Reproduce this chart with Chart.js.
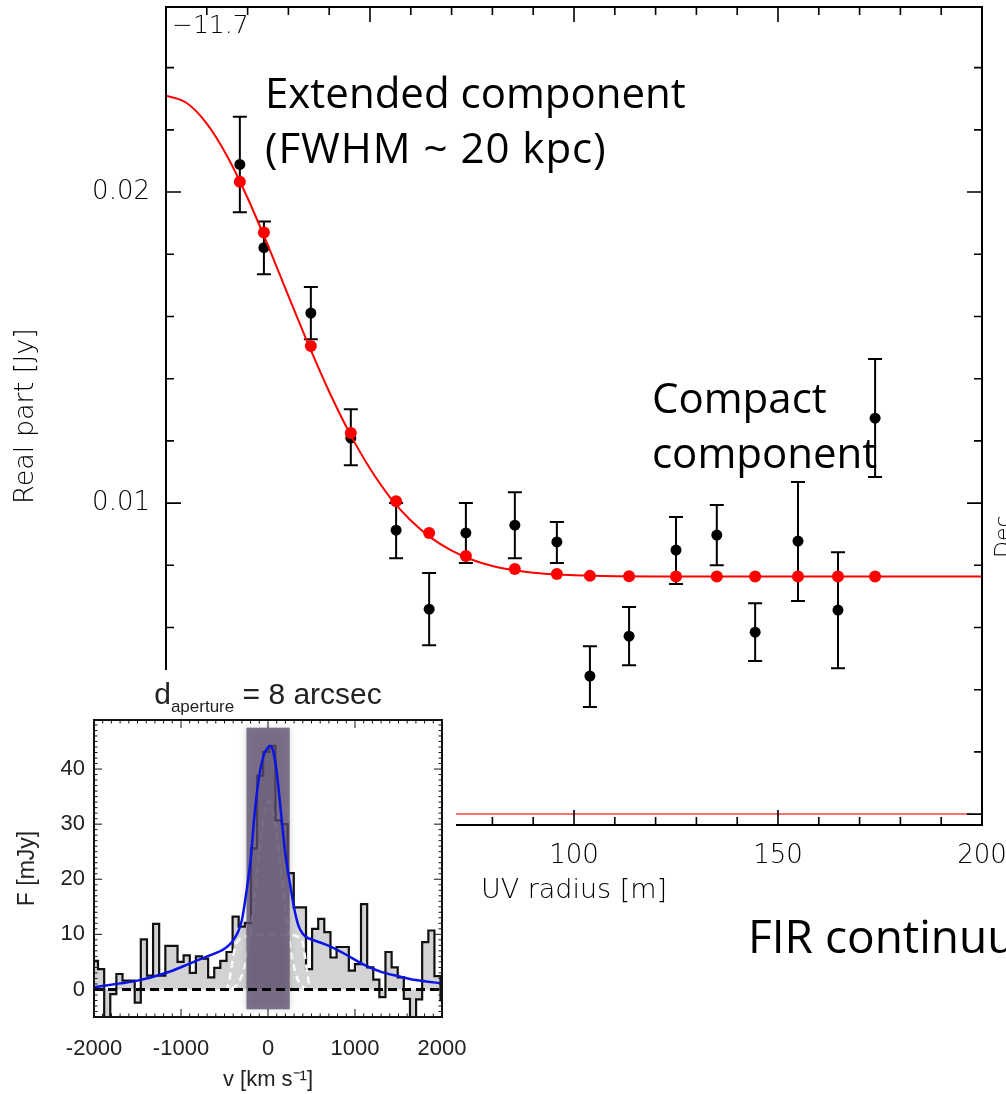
<!DOCTYPE html>
<html>
<head>
<meta charset="utf-8">
<title>Real part vs UV radius</title>
<script src="https://cdn.jsdelivr.net/npm/chart.js@4.4.1/dist/chart.umd.min.js"></script>
<style>
  html, body { margin: 0; padding: 0; background: #fff; }
  body { position: relative; width: 1006px; height: 1094px; overflow: hidden; }
  canvas { position: absolute; }
  #main { left: 0; top: 0; }
  #insetBack { position: absolute; left: 0; top: 670px; width: 456px; height: 424px; background: #fff; }
  #inset { left: 0; top: 670px; }
  .note { position: absolute; white-space: nowrap; line-height: 1; color: #000; font-family: 'Open Sans', sans-serif; }
  .idl { position: absolute; white-space: nowrap; line-height: 1; color: #000; font-family: 'DejaVu Sans', sans-serif; font-weight: 200; }
  #insetTitle { position: absolute; left: 0; width: 536px; top: 679px; text-align: center; line-height: 1;
                font-family: 'Liberation Sans', Arial, sans-serif; font-size: 30px; color: #222; white-space: nowrap; }
  #insetTitle span { font-size: 17px; position: relative; top: 8px; }
</style>
</head>
<body>
<canvas id="main" width="1006" height="1094"></canvas>
<div class="idl" style="left:172px; top:12px; font-size:25px;">−11.7</div>
<div class="idl" style="left:992px; top:558px; font-size:22px; transform:rotate(-90deg); transform-origin:0 0;">Dec</div>
<div class="note" style="left:265px; top:71px; font-size:42px;">Extended component</div>
<div class="note" style="left:265px; top:126px; font-size:42px; letter-spacing:1px;">(FWHM ~ 20 kpc)</div>
<div class="note" style="left:652px; top:376px; font-size:42px;">Compact</div>
<div class="note" style="left:652px; top:431px; font-size:42px;">component</div>
<div class="note" style="left:748px; top:912px; font-size:46px;">FIR continuum</div>
<div id="insetBack"></div>
<canvas id="inset" width="480" height="424"></canvas>
<div id="insetTitle">d<span>aperture</span> = 8 arcsec</div>
<script>
// main panel: real part of the visibilities against uv distance
const uvRadius   = [18.1, 24.0, 35.5, 45.3, 56.4, 64.5, 73.5, 85.5, 95.8, 103.9, 113.5, 125.0, 135.0, 144.4, 154.9, 164.7, 173.8];
const realPart   = [0.02089, 0.01821, 0.01611, 0.01209, 0.00913, 0.00659, 0.00904, 0.00929, 0.00875, 0.00444, 0.00572, 0.00849, 0.00897, 0.00585, 0.00878, 0.00656, 0.01273];
const realHigh   = [0.02242, 0.01905, 0.01695, 0.01302, 0.01000, 0.00775, 0.01000, 0.01035, 0.00939, 0.00540, 0.00666, 0.00955, 0.00994, 0.00678, 0.01068, 0.00842, 0.01463];
const realLow    = [0.01935, 0.01736, 0.01527, 0.01122, 0.00823, 0.00543, 0.00807, 0.00823, 0.00807, 0.00344, 0.00479, 0.00740, 0.00800, 0.00492, 0.00685, 0.00469, 0.01084];
const modelAtData = [0.02033, 0.01870, 0.01505, 0.01225, 0.01006, 0.00904, 0.00830, 0.00788, 0.00772, 0.00766, 0.00765, 0.00764, 0.00764, 0.00764, 0.00764, 0.00764, 0.00764];
// model curve
const fitRadius = [0, 5, 10, 15, 20, 25, 30, 35, 40, 45, 50, 55, 60, 65, 70, 75, 80, 85, 90, 95, 100, 110, 120, 140, 170, 200];
const fitReal   = [0.02310, 0.02287, 0.02220, 0.02115, 0.01981, 0.01828, 0.01666, 0.01507, 0.01358, 0.01225, 0.01111, 0.01017, 0.00944, 0.00888, 0.00847, 0.00818, 0.00798, 0.00785, 0.00776, 0.00771, 0.00768, 0.00765, 0.00764, 0.00764, 0.00764, 0.00764];
const zeroLineRadius = [0, 197];
const mainXLabels = [0, 50, 100, 150, 200];
const mainYLabels = [0, 0.01, 0.02];

// inset: [CII] spectrum
const binStart = [-2024, -1954, -1883, -1813, -1743, -1672, -1602, -1532, -1462, -1391, -1321, -1251, -1180, -1110, -1040, -970,
  -899, -829, -759, -688, -618, -548, -477, -407, -337, -266, -196, -126, -56, 15, 85, 155, 226, 296, 366, 437,
  507, 577, 647, 718, 788, 858, 929, 999, 1069, 1140, 1210, 1280, 1350, 1421, 1491, 1561, 1632, 1702, 1772, 1843, 1913, 1983, 2053];
const binFlux = [5.2, 3.7, -6, -0.85, 2.8, 1.6, 1.6, -2.4, 9.1, 2.5, 11.9, 2.5, 7.9, 7.9, 5.0, 6.2,
  3.0, 6.0, 5.6, 2.2, 3.9, 5.2, 6.8, 13.2, 11.4, 12.1, 25.6, 38.8, 43.1, 44.2, 30.7, 30.0, 21.1, 14.9, 14.9, 3.7,
  11.0, 12.8, 10.4, 5.8, 7.7, 7.7, 3.4, 4.6, 15.5, 4.0, 1.8, -1.4, 6.8, 4.0, 2.2, -1.7, -6, -1.8, 8.6, 10.7, 2.4, -2.0, -2.0];
const fitV = [-2000, -1700, -1500, -1300, -1100, -900, -700, -500, -420, -380, -340, -300, -250, -200, -150, -100, -50, 0, 30, 60,
  100, 150, 200, 250, 300, 350, 400, 450, 550, 700, 900, 1100, 1300, 1500, 1700, 2000];
const fitF = [0.4, 1.1, 1.6, 2.4, 3.4, 4.7, 6.0, 7.4, 8.5, 9.4, 10.6, 12.6, 17.5, 23.5, 32.5, 38.8, 42.5, 43.9, 44.2, 43.2,
  39.5, 32.0, 24.5, 19.5, 14.8, 11.6, 10.1, 9.4, 8.8, 7.9, 6.3, 4.5, 3.2, 2.4, 1.7, 1.1];
const narrowV = [-420, -340, -280, -220, -160, -100, -50, 10, 70, 120, 180, 240, 300, 360, 420];
const narrowF = [0.1, 1.2, 3.5, 8.5, 16.0, 25.0, 31.0, 34.2, 31.0, 25.5, 17.0, 9.5, 4.0, 1.2, 0.2];
const broadV = [-500, -460, -420, -380, -340, -280, 0, 280, 340, 390, 420, 450, 480, 510];
const broadF = [0, 0.5, 4.0, 7.6, 8.9, 9.6, 9.9, 9.9, 9.6, 9.0, 6.5, 3.0, 0.6, 0];
const windowV = [-248, 250];
const windowF = [-3.6, 47.5];
const insetXLabels = [-2000, -1000, 0, 1000, 2000];
const insetYLabels = [0, 10, 20, 30, 40];

const pts = (xs, ys) => xs.map((x, i) => ({ x: x, y: ys[i] }));

// keep the plot box exactly where the axes are fitted
const fitHeight = h => s => { s.height = h; s.paddingLeft = 0; s.paddingRight = 0; s.paddingTop = 0; s.paddingBottom = 0; };
const fitWidth = w => s => { s.width = w; s.paddingLeft = 0; s.paddingRight = 0; s.paddingTop = 0; s.paddingBottom = 0; };

// box + inward tick marks on all four sides
const frameTicks = {
  id: 'frameTicks',
  afterDraw(chart, args, o) {
    const { ctx, chartArea: a } = chart;
    const x = chart.scales.x, y = chart.scales.y;
    const marks = (min, max, step, major) => {
      const out = [];
      for (let k = Math.ceil(min / step - 1e-6); k * step <= max + step * 1e-6; k++) {
        const v = k * step;
        out.push({ v: v, major: Math.abs(v / major - Math.round(v / major)) < 1e-6 });
      }
      return out;
    };
    ctx.save();
    ctx.strokeStyle = o.color;
    ctx.lineWidth = o.tickWidth;
    ctx.beginPath();
    marks(x.min, x.max, o.xMinor, o.xMajor).forEach(m => {
      const px = x.getPixelForValue(m.v), len = m.major ? o.majorLen : o.minorLen;
      ctx.moveTo(px, a.bottom); ctx.lineTo(px, a.bottom - len);
      ctx.moveTo(px, a.top); ctx.lineTo(px, a.top + len);
    });
    marks(y.min, y.max, o.yMinor, o.yMajor).forEach(m => {
      const py = y.getPixelForValue(m.v), len = m.major ? o.majorLen : o.minorLen;
      ctx.moveTo(a.left, py); ctx.lineTo(a.left + len, py);
      ctx.moveTo(a.right, py); ctx.lineTo(a.right - len, py);
    });
    ctx.stroke();
    ctx.lineWidth = o.frameWidth;
    ctx.strokeRect(a.left, a.top, a.right - a.left, a.bottom - a.top);
    ctx.restore();
  }
};

const errorBars = {
  id: 'errorBars',
  beforeDatasetsDraw(chart) {
    const { ctx } = chart;
    const x = chart.scales.x, y = chart.scales.y;
    ctx.save();
    ctx.strokeStyle = '#000';
    ctx.lineWidth = 2;
    ctx.beginPath();
    uvRadius.forEach((u, i) => {
      const px = x.getPixelForValue(u);
      const hi = y.getPixelForValue(realHigh[i]), lo = y.getPixelForValue(realLow[i]);
      ctx.moveTo(px, hi); ctx.lineTo(px, lo);
      ctx.moveTo(px - 7, hi); ctx.lineTo(px + 7, hi);
      ctx.moveTo(px - 7, lo); ctx.lineTo(px + 7, lo);
    });
    ctx.stroke();
    ctx.restore();
  }
};

// shaded velocity window, drawn just before the blue fit
const velWindow = {
  id: 'velWindow',
  beforeDatasetDraw(chart, args) {
    if (chart.data.datasets[args.index].label !== 'fit') return;
    const { ctx } = chart;
    const x = chart.scales.x, y = chart.scales.y;
    const l = x.getPixelForValue(windowV[0]), r = x.getPixelForValue(windowV[1]);
    const t = y.getPixelForValue(windowF[1]), b = y.getPixelForValue(windowF[0]);
    ctx.save();
    ctx.fillStyle = 'rgba(88, 74, 104, 0.74)';
    ctx.shadowColor = 'rgba(88, 74, 104, 0.35)';
    ctx.shadowBlur = 6;
    ctx.fillRect(l, t, r - l, b - t);
    ctx.restore();
  }
};

const idlFont = { family: "'DejaVu Sans', sans-serif", size: 26, weight: 200 };
const idlTitle = { family: "'DejaVu Sans', sans-serif", size: 27, weight: 200 };

new Chart(document.getElementById('main'), {
  type: 'scatter',
  data: {
    datasets: [
      { label: 'data', data: pts(uvRadius, realPart), backgroundColor: '#000', borderWidth: 0, pointRadius: 5.5, order: 4 },
      { label: 'zero', type: 'line', data: zeroLineRadius.map(u => ({ x: u, y: 0 })), borderColor: '#ff4040', borderWidth: 1.5, pointRadius: 0, order: 3 },
      { label: 'model', type: 'line', data: pts(fitRadius, fitReal), borderColor: '#ff0000', borderWidth: 2, pointRadius: 0, cubicInterpolationMode: 'monotone', order: 2 },
      { label: 'model at data', data: pts(uvRadius, modelAtData), backgroundColor: '#ff0000', borderWidth: 0, pointRadius: 6, order: 1 }
    ]
  },
  options: {
    responsive: false,
    animation: false,
    devicePixelRatio: 1,
    layout: { padding: { left: 0, right: 24, top: 7, bottom: 0 } },
    plugins: {
      legend: { display: false },
      tooltip: { enabled: false },
      frameTicks: { color: '#000', tickWidth: 1.6, frameWidth: 2, xMinor: 10, xMajor: 50, yMinor: 0.002, yMajor: 0.01, minorLen: 8, majorLen: 15 }
    },
    scales: {
      x: {
        type: 'linear', min: 0, max: 200,
        afterFit: fitHeight(269),
        afterBuildTicks: s => { s.ticks = mainXLabels.map(v => ({ value: v })); },
        grid: { display: false, drawTicks: false },
        border: { display: false },
        ticks: { padding: 16, color: '#000', font: idlFont, maxRotation: 0, autoSkip: false, callback: v => String(v) },
        title: { display: true, text: 'UV radius [m]', color: '#000', font: idlTitle, padding: { top: 0, bottom: 187 } }
      },
      y: {
        type: 'linear', min: -0.00035, max: 0.02595,
        afterFit: fitWidth(166),
        afterBuildTicks: s => { s.ticks = mainYLabels.map(v => ({ value: v })); },
        grid: { display: false, drawTicks: false },
        border: { display: false },
        ticks: { padding: 16, color: '#000', font: idlFont, callback: v => v.toFixed(2) },
        title: { display: true, text: 'Real part [Jy]', color: '#000', font: idlTitle, padding: { top: 10, bottom: 0 } }
      }
    }
  },
  plugins: [errorBars, frameTicks]
});

const helv = { family: "'Liberation Sans', Arial, sans-serif", size: 22 };

new Chart(document.getElementById('inset'), {
  type: 'scatter',
  data: {
    datasets: [
      { label: 'spectrum', type: 'line', data: pts(binStart, binFlux), stepped: 'before', borderColor: '#111', borderWidth: 2.2,
        backgroundColor: '#d3d3d3', fill: 'origin', pointRadius: 0, order: 6 },
      { label: 'narrow', type: 'line', data: pts(narrowV, narrowF), borderColor: 'rgba(255,255,255,0.95)', borderWidth: 2.5,
        borderDash: [7, 5], pointRadius: 0, cubicInterpolationMode: 'monotone', order: 5 },
      { label: 'broad', type: 'line', data: pts(broadV, broadF), borderColor: 'rgba(255,255,255,0.95)', borderWidth: 2.5,
        borderDash: [7, 5], pointRadius: 0, cubicInterpolationMode: 'monotone', order: 4 },
      { label: 'fit', type: 'line', data: pts(fitV, fitF), borderColor: '#0a14e6', borderWidth: 2.5, pointRadius: 0,
        cubicInterpolationMode: 'monotone', order: 2 },
      { label: 'zero', type: 'line', data: [{ x: -2000, y: 0 }, { x: 2000, y: 0 }], borderColor: '#000', borderWidth: 3,
        borderDash: [9, 5], pointRadius: 0, order: 1 }
    ]
  },
  options: {
    responsive: false,
    animation: false,
    devicePixelRatio: 1,
    layout: { padding: { left: 0, right: 38, top: 50, bottom: 0 } },
    plugins: {
      legend: { display: false },
      tooltip: { enabled: false },
      frameTicks: { color: '#111', tickWidth: 1, frameWidth: 2, xMinor: 100, xMajor: 1000, yMinor: 1, yMajor: 10, minorLen: 3.5, majorLen: 8 }
    },
    scales: {
      x: {
        type: 'linear', min: -2000, max: 2000,
        afterFit: fitHeight(77),
        afterBuildTicks: s => { s.ticks = insetXLabels.map(v => ({ value: v })); },
        grid: { display: false, drawTicks: false },
        border: { display: false },
        ticks: { padding: 19, color: '#222', font: helv, maxRotation: 0, autoSkip: false, callback: v => String(v) },
        title: { display: true, text: 'v [km s\u207B\u00B9]', color: '#222', font: helv, padding: { top: 0, bottom: 1 } }
      },
      y: {
        type: 'linear', min: -5, max: 48.9,
        afterFit: fitWidth(94),
        afterBuildTicks: s => { s.ticks = insetYLabels.map(v => ({ value: v })); },
        grid: { display: false, drawTicks: false },
        border: { display: false },
        ticks: { padding: 9, color: '#222', font: helv, callback: v => String(v) },
        title: { display: true, text: 'F [mJy]', color: '#222', font: { family: "'Liberation Sans', Arial, sans-serif", size: 23 }, padding: { top: 14, bottom: 0 } }
      }
    }
  },
  plugins: [velWindow, frameTicks]
});
</script>
</body>
</html>
